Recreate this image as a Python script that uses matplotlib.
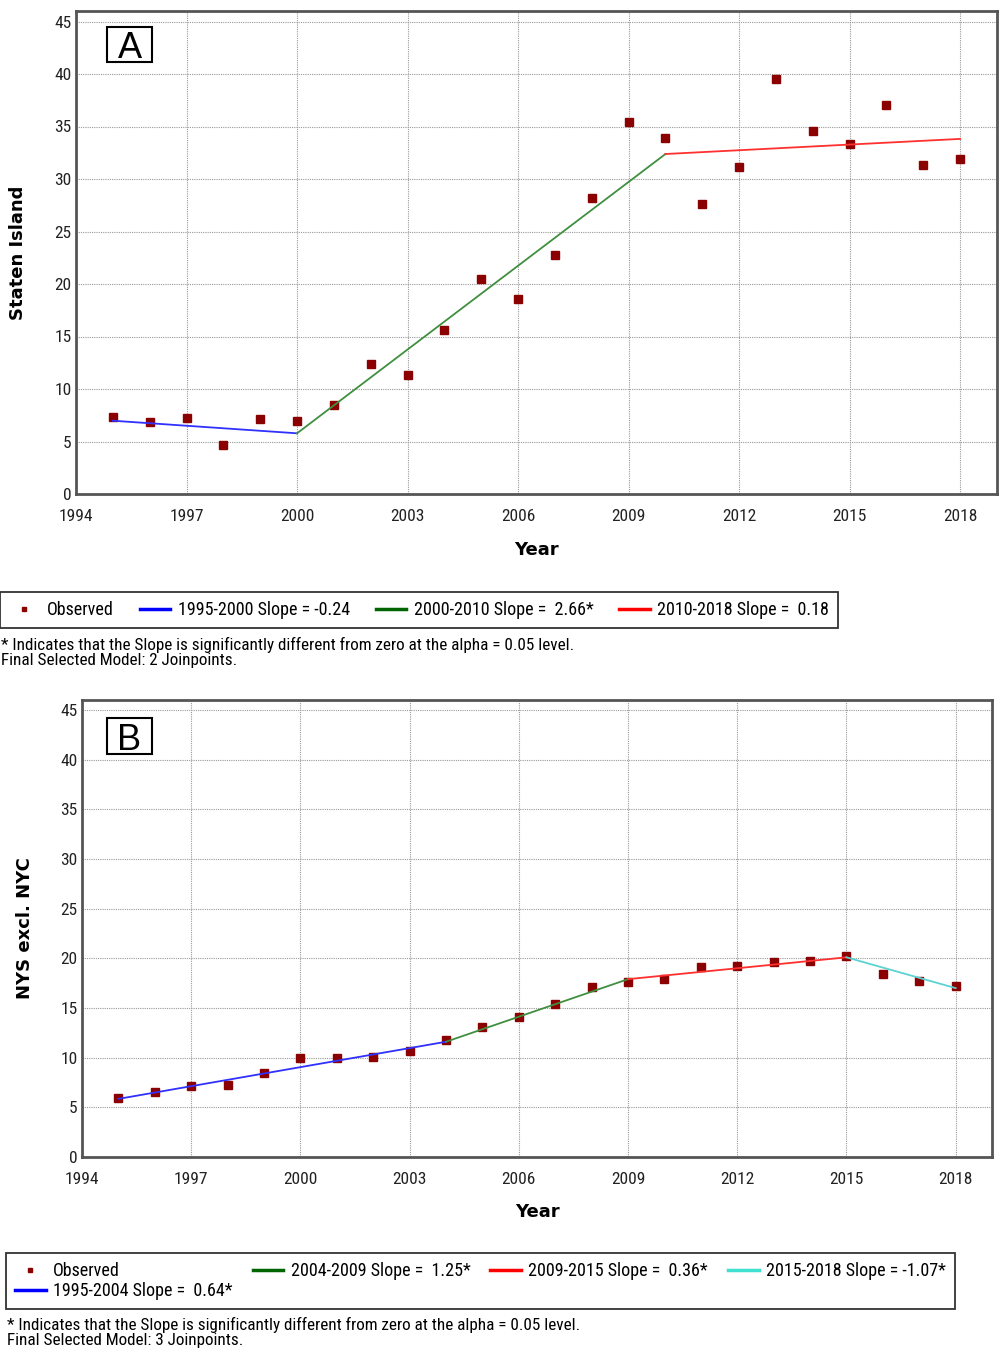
import matplotlib
matplotlib.use("Agg")
import matplotlib.pyplot as plt
from matplotlib.lines import Line2D
from matplotlib.patches import Rectangle

# observed rates
years = list(range(1995, 2019))
staten = [7.36, 6.86, 7.27, 4.64, 7.14, 6.95, 8.48, 12.35, 11.33, 15.65, 20.44, 18.57,
          22.76, 28.16, 35.46, 33.87, 27.59, 31.17, 39.49, 34.57, 33.36, 37.05, 31.37, 31.94]
nys = [5.94, 6.52, 7.12, 7.25, 8.43, 9.97, 10.0, 10.11, 10.64, 11.75, 13.06, 14.14,
       15.38, 17.09, 17.62, 17.9, 19.1, 19.27, 19.64, 19.74, 20.24, 18.47, 17.76, 17.26]

# joinpoint fits: segment breaks and fitted values at them
joins_a = [1995, 2000, 2010, 2018]
fit_a = [6.98, 5.78, 32.38, 33.82]
labels_a = ["1995-2000 Slope = -0.24", "2000-2010 Slope =  2.66*", "2010-2018 Slope =  0.18"]

joins_b = [1995, 2004, 2009, 2015, 2018]
fit_b = [5.85, 11.6, 17.9, 20.1, 17.0]
labels_b = ["1995-2004 Slope =  0.64*", "2004-2009 Slope =  1.25*",
            "2009-2015 Slope =  0.36*", "2015-2018 Slope = -1.07*"]

xticks = [1994, 1997, 2000, 2003, 2006, 2009, 2012, 2015, 2018]
yticks = [0, 5, 10, 15, 20, 25, 30, 35, 40, 45]

line_cols = ["#3030ff", "#3f8f3f", "#ff3030", "#5cd3d3"]
leg_cols = ["#0000ff", "#006400", "#ff0000", "#40e0d0"]
obs_col = "#8b0000"

narrow = ["Roboto Condensed", "Liberation Sans", "DejaVu Sans"]

W, H = 1002, 1361
fig = plt.figure(figsize=(W / 100, H / 100), dpi=100)


def panel(rect, data, joins, fit, letter, ylabel, box):
    ax = fig.add_axes(rect)
    ax.set_xlim(1994, 2019)
    ax.set_ylim(0, 46)
    ax.set_xticks(xticks)
    ax.set_yticks(yticks)
    ax.grid(True, color="#999999", linestyle=(0, (1, 1)), lw=0.8)
    ax.set_axisbelow(True)
    ax.tick_params(length=0, labelsize=12.5, colors="#222222")
    ax.tick_params(axis="x", pad=11)
    ax.tick_params(axis="y", pad=3)
    for lab in ax.get_xticklabels() + ax.get_yticklabels():
        lab.set_family(narrow)
    for s in ax.spines.values():
        s.set_color("#555555")
        s.set_linewidth(2)
    ax.plot(years, data, "s", color=obs_col, ms=6, zorder=2.5)
    for i in range(len(joins) - 1):
        ax.plot(joins[i:i + 2], fit[i:i + 2], color=line_cols[i], lw=1.3, zorder=3)
    # boxed panel letter
    bx, by, bw, bh = box
    ax.add_patch(Rectangle((bx, by), bw, bh, transform=ax.transAxes, fc="white",
                           ec="black", lw=1.5, zorder=4))
    ax.text(bx + bw / 2, by + bh / 2, letter, transform=ax.transAxes, ha="center",
            va="center_baseline", fontsize=26, family=["Liberation Sans", "DejaVu Sans"], zorder=5)
    ax.set_xlabel("Year", fontsize=13, fontweight="bold")
    ax.set_ylabel(ylabel, fontsize=13, fontweight="bold")
    return ax


ax_a = panel([76 / W, 1 - 494 / H, 921 / W, 483 / H], staten, joins_a, fit_a, "A", "Staten Island",
             (31 / 921, (494 - 62) / 483, 45 / 921, 35 / 483))
ax_a.xaxis.set_label_coords(0.5, -(541 - 494) / 483)
ax_a.yaxis.set_label_coords(-0.053, 0.5)

ax_b = panel([82 / W, 1 - 1157 / H, 910 / W, 457 / H], nys, joins_b, fit_b, "B", "NYS excl. NYC",
             (25 / 910, (1157 - 754) / 457, 45 / 910, 36 / 457))
ax_b.xaxis.set_label_coords(0.5, -(1203 - 1157) / 457)
ax_b.yaxis.set_label_coords(-0.053, 0.5)


def legend(labels, ncols, x0, y0, w):
    obs = Line2D([], [], ls="none", marker="s", ms=3.5, color=obs_col)
    handles = [obs] + [Line2D([], [], color=leg_cols[i], lw=2.5) for i in range(len(labels))]
    lg = fig.legend(handles, ["Observed"] + labels, loc="upper left",
                    bbox_to_anchor=(x0 / W, 1 - y0 / H, w / W, 0), mode="expand",
                    ncol=ncols, borderaxespad=0, fancybox=False, edgecolor="black",
                    prop={"family": narrow, "size": 13}, handlelength=1.7,
                    handletextpad=0.4, labelspacing=0.12, borderpad=0.5)
    lg.get_frame().set_linewidth(1.3)
    return lg


legend(labels_a, 4, 0, 592, 838)
legend(labels_b, 4, 6, 1253, 949)

note = "* Indicates that the Slope is significantly different from zero at the alpha = 0.05 level."
fig.text(1 / W, 1 - 645 / H, note, fontsize=12.3, family=narrow, va="center")
fig.text(1 / W, 1 - 661 / H, "Final Selected Model: 2 Joinpoints.", fontsize=12.3, family=narrow, va="center")
fig.text(7 / W, 1 - 1325 / H, note, fontsize=12.3, family=narrow, va="center")
fig.text(7 / W, 1 - 1341 / H, "Final Selected Model: 3 Joinpoints.", fontsize=12.3, family=narrow, va="center")

fig.savefig("out.png", dpi=100)
